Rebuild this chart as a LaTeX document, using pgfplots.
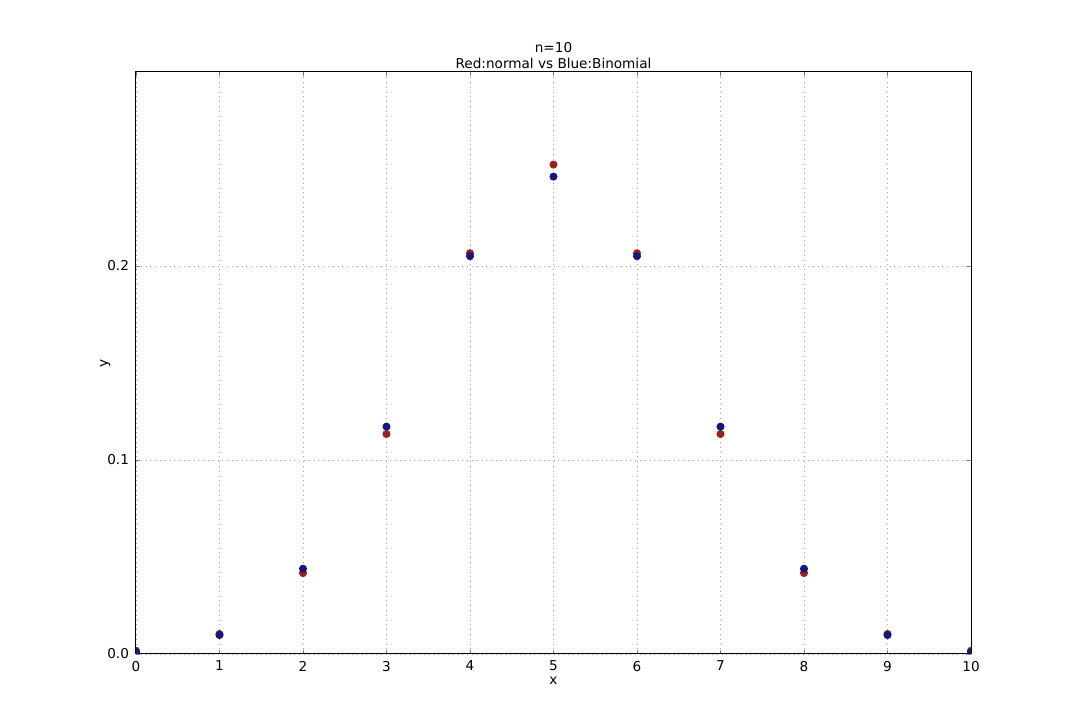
\documentclass[border=0pt]{standalone}
\usepackage{pgfplots}
\pgfplotsset{compat=1.18}
\usetikzlibrary{calc}
\usepackage{fontspec}
\setmainfont{DejaVu Sans}
\definecolor{normred}{HTML}{9E1F1F}
\definecolor{binblue}{HTML}{161680}
\newcommand{\figfont}{\fontsize{6.8}{8}\selectfont}

\begin{document}
\begin{tikzpicture}[x=1pt,y=1pt]
\begin{axis}[name=ax, width=417.5pt, height=291pt, scale only axis,
  xmin=0, xmax=10, ymin=0, ymax=0.3,
  xtick={0,1,...,10}, ytick={0,0.1,0.2},
  yticklabel style={/pgf/number format/.cd, fixed, fixed zerofill, precision=1},
  /pgf/number format/assume math mode=true,
  tick label style={font=\figfont}, label style={font=\figfont},
  title style={font=\figfont, align=center, yshift=-8pt},
  title={n=10\\Red:normal vs Blue:Binomial},
  xlabel={x}, ylabel={y},
  xlabel style={yshift=4pt}, ylabel style={yshift=-8.5pt},
  tick align=inside, major tick length=2pt,
  xtick pos=both, ytick pos=both,
  axis line style={black, line width=0.5pt},
  grid=major, grid style={gray!70, dotted, line width=0.4pt},
  clip marker paths=true,
  every axis plot/.append style={only marks, mark=*, mark size=1.8pt}]
\addplot[normred, mark options={fill=normred, draw=normred}] coordinates {
(0,0.0017) (1,0.0103) (2,0.0417) (3,0.1134) (4,0.2066) (5,0.2523)
(6,0.2066) (7,0.1134) (8,0.0417) (9,0.0103) (10,0.0017)};
\addplot[binblue, mark options={fill=binblue, draw=binblue}] coordinates {
(0,0.000977) (1,0.009766) (2,0.043945) (3,0.117188) (4,0.205078) (5,0.246094)
(6,0.205078) (7,0.117188) (8,0.043945) (9,0.009766) (10,0.000977)};
\coordinate (bl) at (rel axis cs:0,0);
\coordinate (tr) at (rel axis cs:1,1);
\end{axis}
\pgfresetboundingbox
\path ($(bl)+(-68pt,-36pt)$) rectangle ($(tr)+(54.5pt,36pt)$);
\end{tikzpicture}
\end{document}
